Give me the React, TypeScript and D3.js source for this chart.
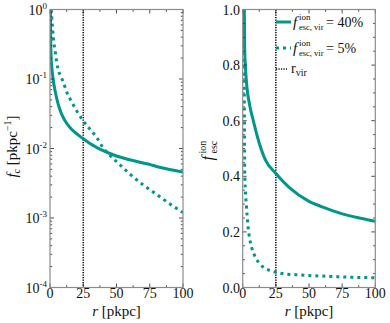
import React from 'react';
import * as d3 from 'd3';

// radius in pkpc, clumping factor f_c (left panel)
const rSolidL = [0.3, 0.5, 0.8, 1.2, 1.7, 2.5, 4, 6.2, 8.5, 11.3, 15, 18.8, 25, 30, 35, 40, 45, 50, 60, 70, 75, 80, 90, 100];
const fcSolid = [1.0, 0.4, 0.22, 0.16, 0.127, 0.095, 0.065, 0.043, 0.032, 0.025, 0.02, 0.017, 0.0138, 0.0118, 0.0104, 0.0093, 0.0085, 0.0078, 0.0069, 0.0062, 0.0059, 0.0055, 0.005, 0.0046];
const rDotL = [1, 1.5, 2.5, 4, 6, 8, 10, 13, 16, 20, 25, 30, 35, 40, 45, 50, 60, 70, 80, 90, 100];
const fcDot = [1.0, 0.7, 0.4, 0.24, 0.14, 0.11, 0.09, 0.062, 0.048, 0.035, 0.025, 0.019, 0.0145, 0.0102, 0.008, 0.0065, 0.0043, 0.003, 0.0022, 0.0016, 0.0012];

// escape fraction (right panel)
const rSolidR = [1.2, 1.5, 2, 3, 5.3, 8, 11.5, 17, 25, 35, 50, 60, 75, 90, 100];
const fescSolid = [1.0, 0.86, 0.8, 0.73, 0.655, 0.6, 0.535, 0.46, 0.41, 0.36, 0.31, 0.29, 0.265, 0.248, 0.238];
const rDotR = [1.0, 1.3, 1.5, 2, 2.7, 4, 5.3, 7, 9, 12, 15, 20, 25, 30, 40, 50, 60, 75, 90, 100];
const fescDot = [1.0, 0.6, 0.42, 0.35, 0.3, 0.22, 0.175, 0.14, 0.115, 0.09, 0.075, 0.062, 0.055, 0.05, 0.046, 0.043, 0.041, 0.038, 0.036, 0.035];

const rVir = 25;
const xTicks = [0, 25, 50, 75, 100];
const logTicks = [-4, -3, -2, -1, 0];
const linTicks = [0, 0.2, 0.4, 0.6, 0.8, 1.0];
const legendLabels = ['40%', '5%'];

const W = 390, H = 323;
const teal = '#00968c';
const top = 9.5, bottom = 287.5;

const zip = (xs: number[], ys: number[]) => xs.map((x, i) => [x, ys[i]] as [number, number]);

function Frame({ x, y, yMinor }: any) {
  const [x0, x1] = x.range();
  const [y0, y1] = y.range();
  const ticks: any[] = [];
  const tk = (k: string, a: number, b: number, c: number, d: number) =>
    ticks.push(<line key={k} x1={a} y1={b} x2={c} y2={d} stroke="#222" strokeWidth={0.8} />);
  d3.range(0, 100.01, 12.5).forEach((v) => {
    const len = v % 25 === 0 ? 4 : 2.2;
    tk('xb' + v, x(v), y0, x(v), y0 - len);
    tk('xt' + v, x(v), y1, x(v), y1 + len);
  });
  yMinor.forEach((v: any, i: number) => {
    const len = v.major ? 4 : 2.2;
    tk('yl' + i, x0, y(v.v), x0 + len, y(v.v));
    tk('yr' + i, x1, y(v.v), x1 - len, y(v.v));
  });
  return (
    <g>
      {ticks}
      <rect x={x0} y={y1} width={x1 - x0} height={y0 - y1} fill="none" stroke="#8c8c8c" strokeWidth={1.2} />
    </g>
  );
}

export default function App() {
  const xL = d3.scaleLinear().domain([0, 100]).range([50, 183]);
  const xR = d3.scaleLinear().domain([0, 100]).range([242.7, 375.3]);
  const yL = d3.scaleLog().domain([1e-4, 1]).range([bottom, top]);
  const yR = d3.scaleLinear().domain([0, 1]).range([bottom, top]);

  const lineL = d3.line<[number, number]>().x((d) => xL(d[0])).y((d) => yL(d[1])).curve(d3.curveMonotoneX);
  const lineR = d3.line<[number, number]>().x((d) => xR(d[0])).y((d) => yR(d[1])).curve(d3.curveMonotoneX);

  const logMinor: any[] = [];
  logTicks.forEach((e) => {
    logMinor.push({ v: Math.pow(10, e), major: true });
    if (e < 0) d3.range(2, 10).forEach((m) => logMinor.push({ v: m * Math.pow(10, e), major: false }));
  });
  const linMinor = d3.range(0, 1.001, 0.05).map((v, i) => ({ v, major: i % 4 === 0 }));

  const txt = { fontSize: 14, fill: '#111' };
  const vir = { stroke: '#111', strokeWidth: 1.6, strokeDasharray: '1.2,1.3' };

  return (
    <svg width={W} height={H} style={{ position: 'absolute', left: 0, top: 0, fontFamily: "'Liberation Serif', 'Times New Roman', serif" }}>
      <rect width={W} height={H} fill="white" />
      <defs>
        <clipPath id="clipL"><rect x={50} y={top} width={133} height={bottom - top} /></clipPath>
        <clipPath id="clipR"><rect x={242.7} y={top} width={132.6} height={bottom - top} /></clipPath>
      </defs>

      {/* left panel */}
      <g clipPath="url(#clipL)">
        <line x1={xL(rVir)} x2={xL(rVir)} y1={top} y2={bottom} {...vir} />
        <path d={lineL(zip(rSolidL, fcSolid)) || ''} fill="none" stroke={teal} strokeWidth={3} />
        <path d={lineL(zip(rDotL, fcDot)) || ''} fill="none" stroke={teal} strokeWidth={3} strokeDasharray="3,4" />
      </g>
      <Frame x={xL} y={yL} yMinor={logMinor} />
      {xTicks.map((t) => (
        <text key={'xl' + t} x={xL(t)} y={298} textAnchor="middle" {...txt}>{t}</text>
      ))}
      {logTicks.map((e) => (
        <text key={'yl' + e} x={47} y={yL(Math.pow(10, e)) + 5} textAnchor="end" {...txt}>
          10<tspan fontSize={9} dy={-6}>{e === 0 ? '0' : '-' + -e}</tspan>
        </text>
      ))}
      <text x={xL(50)} y={316} textAnchor="middle" {...txt} fontSize={15}>
        <tspan fontStyle="italic">r</tspan> [pkpc]
      </text>
      <text transform={`translate(17,${(top + bottom) / 2 - 2}) rotate(-90)`} textAnchor="middle" {...txt} fontSize={15}>
        <tspan fontStyle="italic">f</tspan><tspan fontSize={10} dy={3}>c</tspan><tspan dy={-3}> [pkpc</tspan>
        <tspan fontSize={10} dy={-6}>−1</tspan><tspan dy={6}>]</tspan>
      </text>

      {/* right panel */}
      <g clipPath="url(#clipR)">
        <line x1={xR(rVir)} x2={xR(rVir)} y1={top} y2={bottom} {...vir} />
        <path d={lineR(zip(rSolidR, fescSolid)) || ''} fill="none" stroke={teal} strokeWidth={3} />
        <path d={lineR(zip(rDotR, fescDot)) || ''} fill="none" stroke={teal} strokeWidth={3} strokeDasharray="3,4" />
      </g>
      <Frame x={xR} y={yR} yMinor={linMinor} />
      {xTicks.map((t) => (
        <text key={'xr' + t} x={xR(t)} y={298} textAnchor="middle" {...txt}>{t}</text>
      ))}
      {linTicks.map((t) => (
        <text key={'yr' + t} x={240} y={yR(t) + 5} textAnchor="end" {...txt}>{t.toFixed(1)}</text>
      ))}
      <text x={xR(50)} y={316} textAnchor="middle" {...txt} fontSize={15}>
        <tspan fontStyle="italic">r</tspan> [pkpc]
      </text>
      <g transform={`translate(213,${(top + bottom) / 2}) rotate(-90)`}>
        <text x={-12} y={0} {...txt} fontSize={16} fontStyle="italic">f</text>
        <text x={-5} y={-7} {...txt} fontSize={10}>ion</text>
        <text x={-5} y={4} {...txt} fontSize={10}>esc</text>
      </g>

      {/* legend */}
      {legendLabels.map((lab, i) => {
        const ly = 22 + i * 26;
        return (
          <g key={lab}>
            <line x1={276} x2={291} y1={ly} y2={ly} stroke={teal} strokeWidth={3} strokeDasharray={i === 0 ? undefined : '3,4'} />
            <text x={293} y={ly + 5} {...txt} fontSize={15} fontStyle="italic">f</text>
            <text x={299} y={ly - 2} {...txt} fontSize={9}>ion</text>
            <text x={299} y={ly + 8} {...txt} fontSize={8.5}>esc, vir</text>
            <text x={326} y={ly + 5} {...txt}>= {lab}</text>
          </g>
        );
      })}
      <line x1={276} x2={287} y1={69} y2={69} {...vir} />
      <text x={291} y={73} {...txt}>r<tspan fontSize={10} dy={3}>vir</tspan></text>
    </svg>
  );
}
